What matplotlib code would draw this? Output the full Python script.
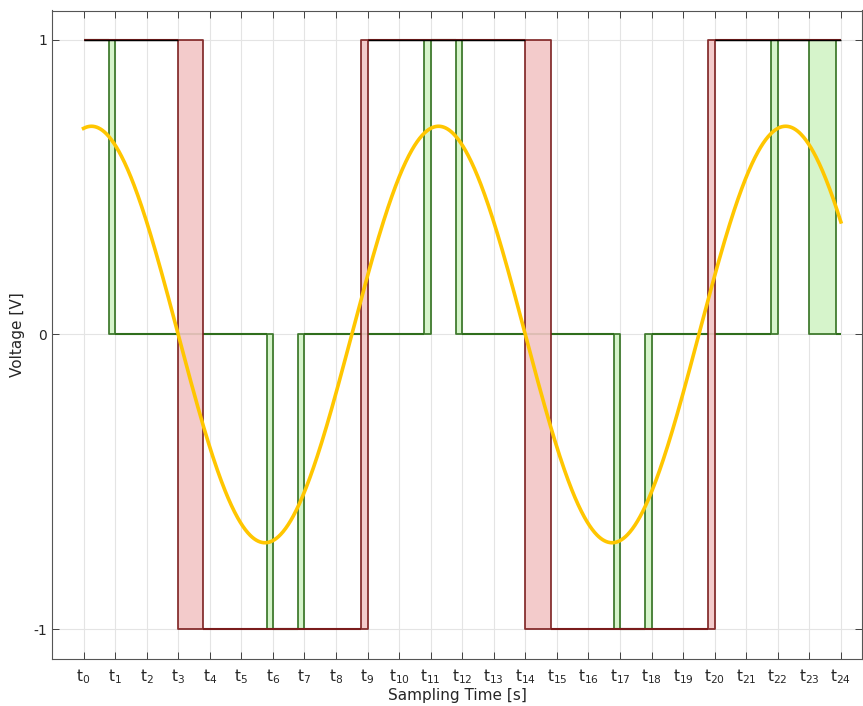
import numpy as np
import matplotlib
matplotlib.use("Agg")
import matplotlib.pyplot as plt

# Analog input: sinusoid parameters
sine_amplitude = 0.707
sine_period = 11.0
sine_peak_time = 0.25
t_start, t_end = 0.0, 24.0

# Two-level (1-bit) output: levels and switching intervals (start, end)
red_levels = [1, -1, 1, -1, 1]
red_switch = [(3.0, 3.8), (8.8, 9.0), (14.0, 14.8), (19.8, 20.0)]

# Three-level output
green_levels = [1, 0, -1, 0, 1, 0, -1, 0, 1, 0]
green_switch = [(0.8, 1.0), (5.8, 6.0), (6.8, 7.0), (10.8, 11.0), (11.8, 12.0),
                (16.8, 17.0), (17.8, 18.0), (21.8, 22.0), (23.0, 23.85)]

sample_ticks = list(range(0, 25))
tick_labels = [r"t$_{%d}$" % k for k in sample_ticks]
y_ticks = [-1, 0, 1]
y_tick_labels = ["-1", "0", "1"]

RED_EDGE = "#7a1c1c"
RED_FILL = "#f2c6c6"
GREEN_EDGE = "#2f6e1c"
GREEN_FILL = "#d2f3c6"
SINE_COLOR = "#ffc600"

fig = plt.figure(figsize=(8.63, 7.06), dpi=100)
ax = fig.add_axes([52 / 863, 1 - 658.5 / 706, (862 - 52) / 863, (658.5 - 10.5) / 706])


def segments(levels, switches):
    starts = [t_start] + [b for _, b in switches]
    ends = [a for a, _ in switches] + [t_end]
    return list(zip(starts, ends, levels))


def draw_signal(levels, switches, edge, fill, z):
    for (a, b), l0, l1 in zip(switches, levels[:-1], levels[1:]):
        ax.fill_between([a, b], [l0, l0], [l1, l1], facecolor=fill, edgecolor=edge,
                        linewidth=1.3, alpha=0.9, zorder=z)
    for s, e, lv in segments(levels, switches):
        ax.plot([s, e], [lv, lv], color=edge, linewidth=1.5, zorder=z + 0.5,
                solid_capstyle="butt")


draw_signal(green_levels, green_switch, GREEN_EDGE, GREEN_FILL, 3)
draw_signal(red_levels, red_switch, RED_EDGE, RED_FILL, 4)

# High-state of the 1-bit output, outlined in black
for s, e, lv in segments(red_levels, red_switch):
    if lv == 1:
        ax.plot([s, e], [lv, lv], color="black", linewidth=1.0, zorder=6,
                solid_capstyle="butt")

t = np.linspace(t_start, t_end, 1200)
v = sine_amplitude * np.cos(2 * np.pi * (t - sine_peak_time) / sine_period)
ax.plot(t, v, color=SINE_COLOR, linewidth=2.6, zorder=5)

ax.set_xlim(-1, 24.67)
ax.set_ylim(-1.1, 1.1)
ax.set_xticks(sample_ticks)
ax.set_xticklabels(tick_labels, fontsize=11)
ax.set_yticks(y_ticks)
ax.set_yticklabels(y_tick_labels, fontsize=10)
ax.tick_params(direction="in", top=True, right=True, colors="#262626",
               length=5, width=0.6, labelcolor="#262626")
ax.tick_params(axis="x", pad=6)
ax.grid(True, color="#e4e4e4", linewidth=0.8, zorder=0)
ax.set_axisbelow(True)
for sp in ax.spines.values():
    sp.set_color("#555555")
    sp.set_linewidth(0.8)

ax.set_xlabel("Sampling Time [s]", fontsize=11, color="#262626", labelpad=2)
ax.set_ylabel("Voltage [V]", fontsize=11, color="#262626", labelpad=6)

fig.savefig("out.png", dpi=100)
